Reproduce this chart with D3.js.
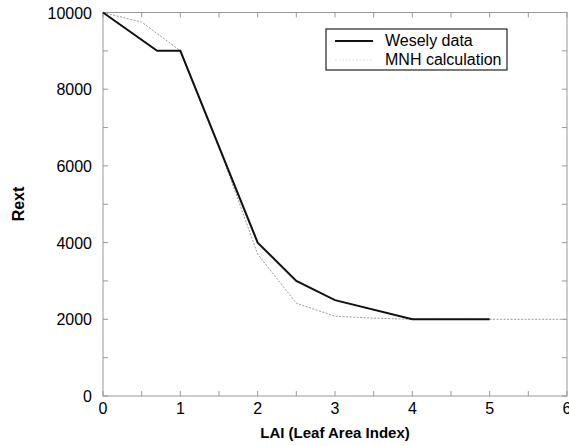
<!DOCTYPE html>
<html>
<head>
<meta charset="utf-8">
<script src="https://cdn.jsdelivr.net/npm/d3@7"></script>
<style>
  body { margin: 0; background: #fff; }
  text { font-family: "Liberation Sans", Arial, sans-serif; }
</style>
</head>
<body>
<script>
// data
var weselyLAI = [0, 0.7, 1, 2, 2.5, 3, 4, 5];
var weselyRext = [10000, 9000, 9000, 4000, 3000, 2500, 2000, 2000];
var mnhLAI = [0, 0.5, 1, 1.5, 2, 2.5, 3, 3.5, 4, 5, 6];
var mnhRext = [10000, 9750, 9000, 6500, 3700, 2420, 2080, 2030, 2000, 2000, 2000];
var xTicks = [0, 1, 2, 3, 4, 5, 6];
var yTicks = [0, 2000, 4000, 6000, 8000, 10000];

var width = 569, height = 446;
var margin = { top: 12.5, right: 2, bottom: 50, left: 103 };

var svg = d3.select("body").append("svg")
    .attr("width", width)
    .attr("height", height);

var x = d3.scaleLinear().domain([0, 6]).range([margin.left, width - margin.right]);
var y = d3.scaleLinear().domain([0, 10000]).range([height - margin.bottom, margin.top]);

var frameColor = "#999";

// frame
svg.append("rect")
    .attr("x", x(0)).attr("y", y(10000))
    .attr("width", x(6) - x(0)).attr("height", y(0) - y(10000))
    .attr("fill", "none").attr("stroke", frameColor).attr("stroke-width", 1);

// inward ticks on all four sides
var xMinor = d3.range(0, 6.01, 0.5);
var yMinor = d3.range(0, 10001, 1000);
var tl = 5;

svg.selectAll("tickB").data(xMinor).enter().append("line")
    .attr("x1", d => x(d)).attr("x2", d => x(d))
    .attr("y1", y(0)).attr("y2", y(0) - tl)
    .attr("stroke", frameColor);
svg.selectAll("tickT").data(xMinor).enter().append("line")
    .attr("x1", d => x(d)).attr("x2", d => x(d))
    .attr("y1", y(10000)).attr("y2", y(10000) + tl)
    .attr("stroke", frameColor);
svg.selectAll("tickL").data(yMinor).enter().append("line")
    .attr("x1", x(0)).attr("x2", x(0) + tl)
    .attr("y1", d => y(d)).attr("y2", d => y(d))
    .attr("stroke", frameColor);
svg.selectAll("tickR").data(yMinor).enter().append("line")
    .attr("x1", x(6)).attr("x2", x(6) - tl)
    .attr("y1", d => y(d)).attr("y2", d => y(d))
    .attr("stroke", frameColor);

// tick labels
svg.selectAll("xlab").data(xTicks).enter().append("text")
    .attr("x", d => x(d)).attr("y", y(0) + 18)
    .attr("text-anchor", "middle")
    .style("font-size", "16px")
    .text(d => d);
svg.selectAll("ylab").data(yTicks).enter().append("text")
    .attr("x", x(0) - 11).attr("y", d => y(d) + 6)
    .attr("text-anchor", "end")
    .style("font-size", "16px")
    .text(d => d);

// axis titles
svg.append("text")
    .attr("x", 335).attr("y", 438)
    .attr("text-anchor", "middle")
    .style("font-size", "15px").style("font-weight", "bold")
    .text("LAI (Leaf Area Index)");
svg.append("text")
    .attr("transform", "translate(24," + 204 + ") rotate(-90)")
    .attr("text-anchor", "middle")
    .style("font-size", "16px").style("font-weight", "bold")
    .text("Rext");

// lines
var line = d3.line().x(d => x(d[0])).y(d => y(d[1]));
var mnh = mnhLAI.map((v, i) => [v, mnhRext[i]]);
var wes = weselyLAI.map((v, i) => [v, weselyRext[i]]);

svg.append("path")
    .attr("d", line(mnh))
    .attr("fill", "none")
    .attr("stroke", "#999")
    .attr("stroke-width", 1)
    .attr("stroke-dasharray", "2,1.5");

svg.append("path")
    .attr("d", line(wes))
    .attr("fill", "none")
    .attr("stroke", "#111")
    .attr("stroke-width", 2);

// legend
var lg = svg.append("g");
lg.append("rect")
    .attr("x", 326).attr("y", 29).attr("width", 181).attr("height", 41)
    .attr("fill", "#fff").attr("stroke", "#222").attr("stroke-width", 1.2);
lg.append("line")
    .attr("x1", 335).attr("x2", 373).attr("y1", 41).attr("y2", 41)
    .attr("stroke", "#111").attr("stroke-width", 2);
lg.append("line")
    .attr("x1", 335).attr("x2", 373).attr("y1", 60).attr("y2", 60)
    .attr("stroke", "#ddd").attr("stroke-width", 1).attr("stroke-dasharray", "2,1.5");
lg.append("text").attr("x", 385).attr("y", 46)
    .style("font-size", "16px").text("Wesely data");
lg.append("text").attr("x", 385).attr("y", 65)
    .style("font-size", "16px").text("MNH calculation");
</script>
</body>
</html>
